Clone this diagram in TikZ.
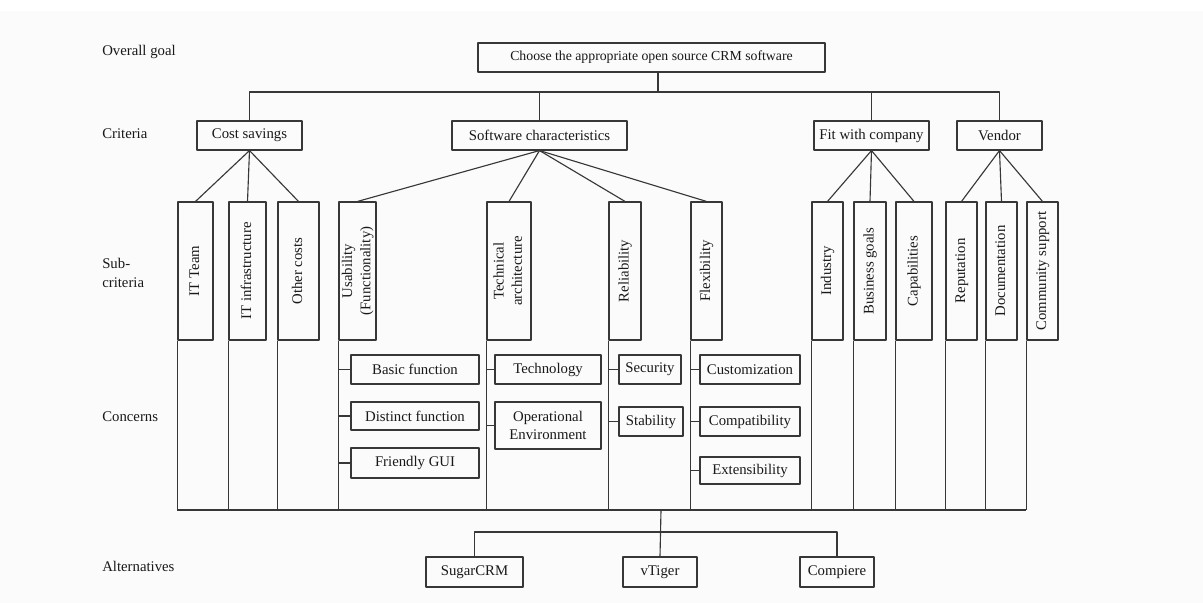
\documentclass[tikz,border=0pt]{standalone}
\usepackage{fontspec}
\setmainfont{Liberation Serif}
\definecolor{bgc}{RGB}{251,251,251}
\definecolor{lnc}{RGB}{55,55,55}
\newcommand{\vtxt}[1]{\rotatebox{90}{\begin{tabular}{@{}c@{}}#1\end{tabular}}}
\begin{document}
\begin{tikzpicture}[x=0.025cm, y=-0.025cm, line join=round,
	font=\fontsize{10.5}{13}\selectfont,
	ln/.style={draw=lnc, line width=0.8pt},
	box/.style={draw=lnc, line width=0.8pt, inner sep=0pt, align=center, text=black!90},
	lab/.style={anchor=west, align=left, inner sep=0pt, text=black!90}]
	\def\u{0.025cm} % 1 px
	\fill[white] (0,0) rectangle (1203,603);
	\fill[bgc] (0,11) rectangle (1203,603);
	\useasboundingbox (0,0) rectangle (1203,603);
	% level labels
	\node[lab] (lgoal) at (102,52) {Overall goal};
	\node[lab] (lcrit) at (102,134) {Criteria};
	\node[lab] (lsub) at (102,273) {Sub-\\criteria};
	\node[lab] (lconc) at (102,417) {Concerns};
	\node[lab] (lalt) at (102,566) {Alternatives};
	% goal and criteria
	\node[box, minimum width={347*\u}, minimum height={29*\u}, font=\fontsize{9.8}{12}\selectfont] (goal) at (651.5,57.5) {Choose the appropriate open source CRM software};
	\foreach \n/\a/\b/\t in {cost/197/302/Cost savings, soft/452/627/Software characteristics,
		fit/814/929/Fit with company, vend/957/1042/Vendor}
	\node[box, minimum width={(\b-\a)*\u}, minimum height={29*\u}] (\n) at ({(\a+\b)/2},135.5) {\t};
	\coordinate (bus1) at (658,92);
	\draw[ln] (goal.south -| bus1) -- (bus1);
	\foreach \n in {cost,soft,fit,vend}
	\draw[ln] (bus1) -| (\n.north);
	% sub-criteria
	\foreach \n/\a/\b/\t in {itteam/178/213/IT Team, itinf/229/266/IT infrastructure,
		other/278/319/Other costs, usab/339/376/{Usability\\(Functionality)},
		tech/487/531/{Technical\\architecture}, reli/609/641/Reliability,
		flex/691/722/Flexibility, indu/812/843/Industry, busi/854/886/Business goals,
		capa/896/932/Capabilities, repu/946/977/Reputation, docu/986/1017/Documentation,
		comm/1027/1058/Community support}
	\node[box, minimum width={(\b-\a)*\u}, minimum height={138*\u}] (\n) at ({(\a+\b)/2},271) {\vtxt{\t}};
	\foreach \p/\n in {cost/itteam, cost/itinf, cost/other, soft/usab, soft/tech, soft/reli,
		soft/flex, fit/indu, fit/busi, fit/capa, vend/repu, vend/docu, vend/comm}
	\draw[ln] (\p.south) -- (\n.north);
	% concerns
	\foreach \n/\a/\b/\c/\d/\t in {basic/351/479/355/384/Basic function,
		dist/351/479/402/430/Distinct function, gui/351/479/448/478/Friendly GUI,
		techn/495/601/355/384/Technology, oper/495/601/402/449/{Operational\\Environment},
		secu/619/681/355/384/Security, stab/619/683/407/436/Stability,
		cust/700/800/355/384/Customization, comp/700/800/407/436/Compatibility,
		exte/700/800/457/484/Extensibility}
	\node[box, minimum width={(\b-\a)*\u}, minimum height={(\d-\c)*\u}] (\n) at ({(\a+\b)/2},{(\c+\d)/2}) {\t};
	\foreach \p/\n in {usab/basic, usab/dist, usab/gui, tech/techn, tech/oper,
		reli/secu, reli/stab, flex/cust, flex/comp, flex/exte}
	\draw[ln] (\n.west) -- (\n.west -| \p.south west);
	% bottom bus
	\coordinate (bus2) at (661,510);
	\foreach \n in {itteam,itinf,other,usab,tech,reli,flex,indu,busi,capa,repu,docu,comm}
	\draw[ln] (\n.south west) -- (\n.south west |- bus2);
	\draw[ln] (itteam.south west |- bus2) -- (comm.south west |- bus2);
	% alternatives
	\foreach \n/\a/\b/\t in {sugar/426/523/SugarCRM, vtig/623/697/vTiger, compi/800/874/Compiere}
	\node[box, minimum width={(\b-\a)*\u}, minimum height={30*\u}] (\n) at ({(\a+\b)/2},572) {\t};
	\coordinate (bus3) at (661,532);
	\draw[ln] (bus2) -- (vtig.north);
	\draw[ln] (sugar.north) |- (compi.north |- bus3) -- (compi.north);
\end{tikzpicture}
\end{document}
